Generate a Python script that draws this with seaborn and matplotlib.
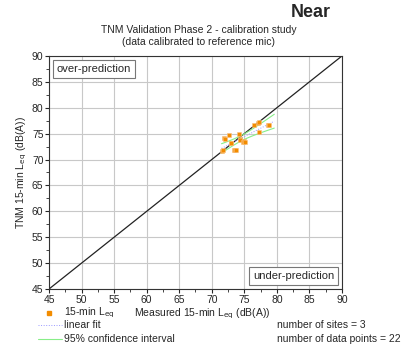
import numpy as np
import pandas as pd
import matplotlib
matplotlib.use('Agg')
import matplotlib.pyplot as plt
import seaborn as sns

sns.set_style('white')
plt.rcParams['font.family'] = ['Liberation Sans', 'DejaVu Sans']

# measured vs predicted 15-min Leq, dB(A)
measured = [71.6, 71.7, 71.95, 72.0, 72.6, 72.9, 72.95, 73.4, 73.6, 73.7, 74.2, 74.3,
            74.4, 74.8, 75.0, 75.1, 76.5, 77.1, 77.2, 77.2, 78.7, 78.8]
predicted = [71.7, 71.8, 74.1, 74.0, 74.8, 73.1, 73.2, 71.8, 71.8, 71.8, 75.0, 73.9,
             73.8, 73.4, 73.5, 73.4, 76.7, 77.1, 77.2, 75.3, 76.6, 76.6]
n_sites = 3
ticks = [45, 50, 55, 60, 65, 70, 75, 80, 85, 90]

df = pd.DataFrame({'measured': measured, 'predicted': predicted})

fig = plt.figure(figsize=(4.12, 3.52), dpi=100)
ax = fig.add_axes([0.119, 0.179, 0.711, 0.662])

# 1:1 line
ax.plot([45, 90], [45, 90], color='#222222', lw=0.9, zorder=2)

sns.scatterplot(data=df, x='measured', y='predicted', ax=ax, color='#f28c00',
                marker='s', s=5, edgecolor='#f8c080', linewidth=0.4, zorder=4, legend=False)

# linear fit + 95% CI
x = df['measured'].values
y = df['predicted'].values
b, a = np.polyfit(x, y, 1)
xs = np.linspace(71.5, 79.6, 50)
yfit = a + b * xs
n = len(x)
resid = y - (a + b * x)
s = np.sqrt((resid ** 2).sum() / (n - 2))
t = 2.086
se = s * np.sqrt(1 / n + (xs - x.mean()) ** 2 / ((x - x.mean()) ** 2).sum())
ax.plot(xs, yfit, color='#9999ff', lw=0.7, ls=':', zorder=3)
ax.plot(xs, yfit + t * se, color='#88ee88', lw=0.8, zorder=3)
ax.plot(xs, yfit - t * se, color='#88ee88', lw=0.8, zorder=3)

ax.set_xlim(45, 90)
ax.set_ylim(45, 90)
ax.set_xticks(ticks)
ax.set_yticks(ticks)
ax.set_xticks(np.arange(47.5, 90, 5), minor=True)
ax.set_yticks(np.arange(47.5, 90, 5), minor=True)
ax.grid(True, which='major', color='#c8c8c8', lw=0.8)
ax.tick_params(which='major', direction='out', length=3, labelsize=7.5, pad=1,
               left=True, bottom=True)
ax.tick_params(which='minor', direction='out', length=2, left=True, bottom=True)
for sp in ax.spines.values():
    sp.set_color('#333333')
    sp.set_linewidth(0.8)

ax.set_xlabel('')
ax.set_ylabel('TNM 15-min L$_{\\rm eq}$ (dB(A))', fontsize=7.5, labelpad=2)

ax.text(0.027, 0.965, 'over-prediction', transform=ax.transAxes, fontsize=8,
        va='top', ha='left',
        bbox=dict(boxstyle='square,pad=0.35', fc='white', ec='#777777', lw=0.8))
ax.text(0.973, 0.035, 'under-prediction', transform=ax.transAxes, fontsize=8,
        va='bottom', ha='right',
        bbox=dict(boxstyle='square,pad=0.35', fc='white', ec='#777777', lw=0.8))

fig.text(0.482, 0.898, 'TNM Validation Phase 2 - calibration study\n(data calibrated to reference mic)',
         ha='center', va='center', fontsize=7.5, linespacing=1.25)
fig.text(0.755, 0.965, 'Near', ha='center', va='center', fontsize=13, fontweight='bold')

# legend and notes below the axes
fig.text(0.325, 0.108, 'Measured 15-min L$_{\\rm eq}$ (dB(A))', fontsize=7.5, va='center')
fig.lines.append(plt.Line2D([0.12], [0.112], transform=fig.transFigure, marker='s',
                            ms=2.2, color='#f28c00', ls='none'))
fig.text(0.155, 0.11, '15-min L$_{\\rm eq}$', fontsize=7.5, va='center')
fig.lines.append(plt.Line2D([0.092, 0.15], [0.078, 0.078], transform=fig.transFigure,
                            color='#9999ff', lw=0.7, ls=':'))
fig.text(0.155, 0.078, 'linear fit', fontsize=7.5, va='center')
fig.lines.append(plt.Line2D([0.092, 0.15], [0.037, 0.037], transform=fig.transFigure,
                            color='#88ee88', lw=0.8))
fig.text(0.155, 0.037, '95% confidence interval', fontsize=7.5, va='center')
fig.text(0.673, 0.078, 'number of sites = %d' % n_sites, fontsize=7.5, va='center')
fig.text(0.673, 0.037, 'number of data points = %d' % len(measured), fontsize=7.5, va='center')

fig.savefig('out.png', dpi=100, facecolor='white')
